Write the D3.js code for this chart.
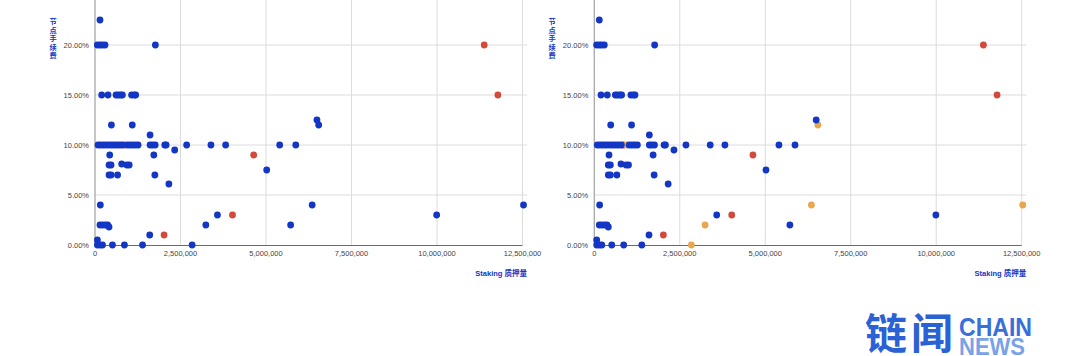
<!DOCTYPE html>
<html><head><meta charset="utf-8">
<script src="https://cdn.jsdelivr.net/npm/d3@7"></script>
<style>body{margin:0;background:#fff}svg{display:block}</style>
</head><body><svg id="c" width="1080" height="356"></svg>
<script>
// Data (stake amount, fee %)
const blueStake = [146000,68000,146000,214000,293000,1765000,
  196000,380000,615000,680000,750000,800000,1070000,1150000,1190000,
  480000,1090000,1610000,
  88000,166000,244000,322000,400000,480000,556000,634000,712000,790000,1020000,1100000,1180000,1260000,
  1610000,1680000,1760000,2040000,2080000,2680000,3390000,3820000,5400000,5870000,
  2330000,430000,1720000,
  410000,470000,780000,930000,1000000,
  410000,470000,660000,1750000,
  5020000,2160000,6490000,
  156000,3580000,9990000,
  146000,220000,300000,370000,410000,5720000,
  1600000,70000,
  70000,150000,220000,510000,860000,1390000];
const blueFee = [22.5,20,20,20,20,20,
  15,15,15,15,15,15,15,15,15,
  12,12,11,
  10,10,10,10,10,10,10,10,10,10,10,10,10,10,
  10,10,10,10,10,10,10,10,10,10,
  9.5,9,9,
  8,8,8.1,8,8,
  7,7,7,7,
  7.5,6.1,12.5,
  4,3,3,
  2,2,2,2,1.8,2,
  1,0.5,
  0,0,0,0,0,0];
const redStake = [2020000,4020000,4640000,11380000,11780000,850000];
const redFee = [1,3,9,20,15,10];
const orangeStake = [6540000,6350000,12530000,3240000,2840000,940000];
const orangeFee = [12,4,4,2,0,10];
const xTicks = [0,2500000,5000000,7500000,10000000,12500000];
const yTicks = [0,5,10,15,20];
const xTitle = "Staking 质押量";
const yTitle = "节点手续费";

const svg = d3.select("#c");
const BLUE = "#1336c4", RED = "#d24a3c", ORANGE = "#e9a64e";
const panels = [{x0:95, x1:522.5, label:53, orangeAs:BLUE},{x0:594.3, x1:1021.7, label:552, orangeAs:ORANGE}];
const y = d3.scaleLinear().domain([0,25]).range([245,-5]);
const font = "'Liberation Sans', Arial, sans-serif";

panels.forEach(p => {
  const x = d3.scaleLinear().domain([0,12500000]).range([p.x0,p.x1]);
  const g = svg.append("g");
  const right = p.x0 + 432;
  g.selectAll("line.hg").data(yTicks.filter(d=>d>0)).join("line").attr("class","hg")
    .attr("x1",p.x0).attr("x2",right).attr("y1",d=>y(d)).attr("y2",d=>y(d))
    .attr("stroke","#dcdcdc").attr("stroke-width",1);
  g.selectAll("line.vg").data(xTicks.filter(d=>d>0)).join("line").attr("class","vg")
    .attr("x1",d=>x(d)).attr("x2",d=>x(d)).attr("y1",-5).attr("y2",245)
    .attr("stroke","#dcdcdc").attr("stroke-width",1);
  g.append("line").attr("x1",p.x0).attr("x2",p.x0).attr("y1",-5).attr("y2",245)
    .attr("stroke","#a8a8a8").attr("stroke-width",1.3);
  g.append("line").attr("x1",p.x0).attr("x2",p.x1).attr("y1",245.5).attr("y2",245.5)
    .attr("stroke","#6a6a6a").attr("stroke-width",1.2);
  g.selectAll("text.yt").data(yTicks).join("text").attr("class","yt")
    .attr("x",p.x0-6).attr("y",d=>y(d)+2.6).attr("text-anchor","end")
    .attr("font-family",font).attr("font-size",7.5).attr("fill","#444")
    .text(d=>d.toFixed(2)+"%");
  g.selectAll("text.xt").data(xTicks).join("text").attr("class","xt")
    .attr("x",d=>x(d)).attr("y",256).attr("text-anchor","middle")
    .attr("font-family",font).attr("font-size",7.5).attr("fill","#444")
    .text(d3.format(","));
  g.append("text").attr("x",right).attr("y",276).attr("text-anchor","end")
    .attr("font-family","'Liberation Sans','Noto Sans CJK SC',sans-serif").attr("font-weight","bold")
    .attr("font-size",7.5).attr("fill",BLUE).text(xTitle);
  g.selectAll("text.yl").data(Array.from(yTitle)).join("text").attr("class","yl")
    .attr("x",p.label).attr("y",(d,i)=>24+i*8.6).attr("text-anchor","middle")
    .attr("font-family","'Noto Sans CJK SC',sans-serif").attr("font-weight","bold")
    .attr("font-size",7.2).attr("fill",BLUE).text(d=>d);
  const r = 3.4;
  g.selectAll("circle.r").data(redStake.map((s,i)=>[s,redFee[i]])).join("circle").attr("class","r")
    .attr("cx",d=>x(d[0])).attr("cy",d=>y(d[1])).attr("r",r).attr("fill",RED);
  g.selectAll("circle.o").data(orangeStake.map((s,i)=>[s,orangeFee[i]])).join("circle").attr("class","o")
    .attr("cx",d=>x(d[0])).attr("cy",d=>y(d[1])).attr("r",r).attr("fill",p.orangeAs);
  g.selectAll("circle.b").data(blueStake.map((s,i)=>[s,blueFee[i]])).join("circle").attr("class","b")
    .attr("cx",d=>x(d[0])).attr("cy",d=>y(d[1])).attr("r",r).attr("fill",BLUE);
});

// logo
svg.append("text").attr("x",865).attr("y",349).attr("font-family","'Noto Sans CJK SC',sans-serif")
  .attr("font-weight","bold").attr("font-size",42).attr("fill","#2a62d6").attr("textLength",88).text("链闻");
svg.append("text").attr("x",959).attr("y",335.5).attr("font-family","'Liberation Sans',Arial,sans-serif")
  .attr("font-weight","bold").attr("font-size",26).attr("fill","#3a6fda")
  .attr("textLength",73).attr("lengthAdjust","spacingAndGlyphs").text("CHAIN");
svg.append("text").attr("x",959).attr("y",355).attr("font-family","'Liberation Sans',Arial,sans-serif")
  .attr("font-weight","bold").attr("font-size",24).attr("fill","#7aa2e6")
  .attr("textLength",66).attr("lengthAdjust","spacingAndGlyphs").text("NEWS");
</script></body></html>
